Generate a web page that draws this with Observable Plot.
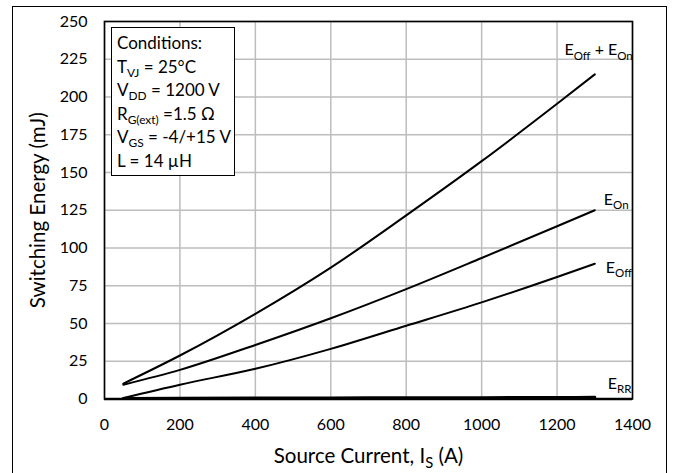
<!DOCTYPE html>
<html><head><meta charset="utf-8">
<script src="https://cdn.jsdelivr.net/npm/d3@7"></script>
<script src="https://cdn.jsdelivr.net/npm/@observablehq/plot@0.6"></script>
<style>
body{margin:0;background:#fff;font-family:Lato, "Open Sans", sans-serif;}
#wrap{position:relative;width:675px;height:473px;overflow:hidden;}
#border{position:absolute;left:12px;top:6px;width:655px;height:490px;border:1.5px solid #000;box-sizing:border-box;}
#chart{position:absolute;left:0;top:0;}
#legend{position:absolute;left:111px;top:27px;width:124px;height:149px;border:1.5px solid #000;box-sizing:border-box;background:#fff;font-size:17px;line-height:23.5px;padding:3px 0 0 5px;color:#000;white-space:nowrap;}
#legend sub{font-size:70%;vertical-align:-0.3em;line-height:0;}
</style></head><body>
<div id="wrap"><div id="border"></div><div id="chart"></div>
<div id="legend">Conditions:<br>T<sub>VJ</sub> = 25°C<br>V<sub>DD</sub> = 1200 V<br>R<sub>G(ext)</sub> =1.5 Ω<br>V<sub>GS</sub> = -4/+15 V<br>L = 14 µH</div>
</div>
<script>
const current = [50, 200, 400, 600, 800, 1000, 1200, 1300];
const eTotal = [10.2, 28.8, 56.4, 87, 121.6, 157.5, 195.5, 215];
const eOn = [9.5, 19.3, 35.8, 53.5, 72.8, 93.4, 114.4, 125];
const eOff = [0.7, 9.5, 20, 33.2, 48.5, 64, 80.8, 89.6];
const eRR = [0.4, 0.5, 0.6, 0.7, 0.8, 0.9, 1.0, 1.1];
const seriesNames = ["E_{Off} + E_{On}", "E_{On}", "E_{Off}", "E_{RR}"];
const xTicks = [0, 200, 400, 600, 800, 1000, 1200, 1400];
const yTicks = [0, 25, 50, 75, 100, 125, 150, 175, 200, 225, 250];

const seriesValues = [eTotal, eOn, eOff, eRR];
const rows = [];
seriesNames.forEach((name, k) => current.forEach((c, i) => rows.push({I: c, E: seriesValues[k][i], series: name})));

const labelStyle = {
  "E_{Off} + E_{On}": {dx: 38, dy: -24, anchor: "end"},
  "E_{On}": {dx: 9, dy: -10, anchor: "start"},
  "E_{Off}": {dx: 11, dy: 4, anchor: "start"},
  "E_{RR}": {dx: 13, dy: -13, anchor: "start"}
};

const marks = [
  Plot.ruleX(xTicks, {x: d => d, stroke: "#bdbdbd", strokeWidth: 1.5}),
  Plot.ruleY(yTicks, {y: d => d, stroke: "#bdbdbd", strokeWidth: 1.5}),
  Plot.axisX(xTicks, {tickSize: 0, tickPadding: 20, fontSize: 16, tickFormat: d3.format("d"), label: "Source Current, I_{S} (A)", labelAnchor: "center", labelOffset: 64, labelArrow: "none"}),
  Plot.axisY(yTicks, {tickSize: 0, tickPadding: 17, fontSize: 16, tickFormat: d3.format("d"), label: "Switching Energy (mJ)", labelAnchor: "center", labelOffset: 74, labelArrow: "none"}),
  Plot.frame({stroke: "#000", strokeWidth: 1.6}),
  Plot.ruleY([0], {stroke: "#000", strokeWidth: 2.5})
];
seriesNames.forEach(name => {
  const data = rows.filter(r => r.series === name);
  marks.push(Plot.line(data, {x: "I", y: "E", curve: "monotone-x", stroke: "#000", strokeWidth: name === "E_{RR}" ? 3 : 2}));
  const s = labelStyle[name];
  marks.push(Plot.text(data, Plot.selectLast({x: "I", y: "E", text: "series", dx: s.dx, dy: s.dy, textAnchor: s.anchor, fontSize: 16, fill: "#000"})));
});

const chart = Plot.plot({
  width: 675, height: 473,
  marginLeft: 104, marginRight: 43, marginTop: 21, marginBottom: 74.5,
  style: {fontFamily: "Lato, 'Open Sans', sans-serif", fontSize: "16px", color: "#000", background: "transparent"},
  x: {domain: [0, 1400]},
  y: {domain: [0, 250]},
  marks
});

const NS = "http://www.w3.org/2000/svg";
function setSub(el, str) {
  el.textContent = "";
  const parts = str.split(/(_\{[^}]*\})/);
  let shifted = false;
  for (const p of parts) {
    if (!p) continue;
    const t = document.createElementNS(NS, "tspan");
    if (p.startsWith("_{")) {
      t.textContent = p.slice(2, -1);
      t.setAttribute("font-size", "72%");
      t.setAttribute("dy", "0.35em");
      shifted = true;
    } else {
      t.textContent = p;
      if (shifted) { t.setAttribute("dy", "-0.252em"); shifted = false; }
    }
    el.appendChild(t);
  }
}
chart.querySelectorAll("text").forEach(el => {
  const txt = el.textContent;
  if (txt.startsWith("Source Current") || txt.startsWith("Switching Energy")) {
    el.setAttribute("font-size", "20.5px");
    el.style.fontSize = "20.5px";
  }
  if (!txt.includes("_{")) return;
  const tspans = el.querySelectorAll("tspan");
  if (tspans.length) tspans.forEach(ts => { if (ts.textContent.includes("_{")) setSub(ts, ts.textContent); });
  else setSub(el, txt);
});
document.getElementById("chart").appendChild(chart);
</script>
</body></html>
